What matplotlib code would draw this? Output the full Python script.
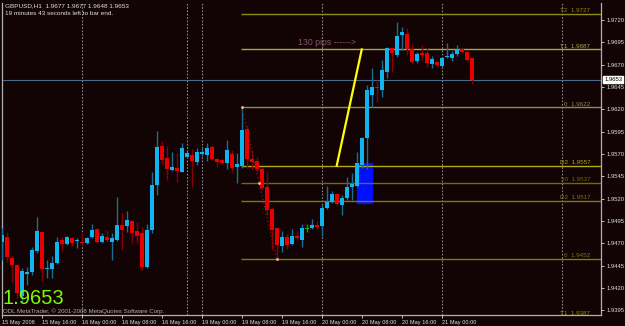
import matplotlib
matplotlib.use('agg')
import matplotlib.pyplot as plt
from matplotlib.patches import Rectangle

# GBPUSD H1 bars (15 May 08:00 .. 21 May 06:00)
opens = [1.9471, 1.9477, 1.9453, 1.9446, 1.9411, 1.9436, 1.9438, 1.9461, 1.9483, 1.9441,
         1.9441, 1.9448, 1.9474, 1.9469, 1.9476, 1.9472, 1.9471, 1.9470, 1.9477, 1.9486,
         1.9471, 1.9477, 1.9471, 1.9474, 1.9490, 1.9489, 1.9495, 1.9484, 1.9481, 1.9443,
         1.9485, 1.9535, 1.9579, 1.9565, 1.9552, 1.9554, 1.9550, 1.9567, 1.9569, 1.9561,
         1.9570, 1.9569, 1.9578, 1.9564, 1.9563, 1.9560, 1.9570, 1.9555, 1.9556, 1.9598,
         1.9564, 1.9562, 1.9553, 1.9533, 1.9508, 1.9487, 1.9467, 1.9477, 1.9469, 1.9478,
         1.9474, 1.9486, 1.9487, 1.9490, 1.9489, 1.9509, 1.9516, 1.9525, 1.9513, 1.9521,
         1.9533, 1.9534, 1.9558, 1.9588, 1.9636, 1.9645, 1.9642, 1.9662, 1.9689, 1.9681,
         1.9703, 1.9704, 1.9688, 1.9674, 1.9683, 1.9683, 1.9671, 1.9673, 1.9668, 1.9679,
         1.9677, 1.9682, 1.9688, 1.9684, 1.9677]
highs = [1.9487, 1.9483, 1.9457, 1.9447, 1.9442, 1.9443, 1.9466, 1.9499, 1.9484, 1.9451,
         1.9456, 1.9477, 1.9477, 1.9478, 1.9477, 1.9476, 1.9481, 1.9477, 1.9492, 1.9487,
         1.9481, 1.9485, 1.9481, 1.9522, 1.9504, 1.9506, 1.9496, 1.9494, 1.9488, 1.9492,
         1.9550, 1.9596, 1.9584, 1.9579, 1.9572, 1.9571, 1.9582, 1.9574, 1.9576, 1.9577,
         1.9577, 1.9582, 1.9580, 1.9565, 1.9564, 1.9586, 1.9574, 1.9571, 1.9622, 1.9601,
         1.9574, 1.9567, 1.9555, 1.9550, 1.9511, 1.9488, 1.9484, 1.9480, 1.9486, 1.9484,
         1.9492, 1.9492, 1.9497, 1.9495, 1.9514, 1.9534, 1.9528, 1.9526, 1.9524, 1.9544,
         1.9549, 1.9572, 1.9589, 1.9647, 1.9666, 1.9653, 1.9675, 1.9690, 1.9690, 1.9718,
         1.9712, 1.9711, 1.9693, 1.9684, 1.9692, 1.9689, 1.9680, 1.9675, 1.9679, 1.9694,
         1.9685, 1.9692, 1.9689, 1.9686, 1.9677]
lows = [1.9451, 1.9449, 1.9427, 1.9409, 1.9404, 1.9423, 1.9434, 1.9459, 1.9428, 1.9431,
        1.9431, 1.9447, 1.9461, 1.9468, 1.9467, 1.9465, 1.9468, 1.9469, 1.9476, 1.9470,
        1.9470, 1.9471, 1.9451, 1.9472, 1.9462, 1.9483, 1.9470, 1.9470, 1.9440, 1.9442,
        1.9481, 1.9524, 1.9559, 1.9541, 1.9551, 1.9539, 1.9550, 1.9565, 1.9533, 1.9558,
        1.9568, 1.9562, 1.9563, 1.9555, 1.9559, 1.9553, 1.9550, 1.9537, 1.9554, 1.9554,
        1.9552, 1.9550, 1.9530, 1.9502, 1.9462, 1.9452, 1.9460, 1.9464, 1.9468, 1.9474,
        1.9466, 1.9483, 1.9486, 1.9486, 1.9478, 1.9508, 1.9515, 1.9513, 1.9502, 1.9518,
        1.9518, 1.9533, 1.9554, 1.9553, 1.9623, 1.9628, 1.9634, 1.9655, 1.9662, 1.9679,
        1.9686, 1.9681, 1.9671, 1.9672, 1.9675, 1.9667, 1.9666, 1.9667, 1.9667, 1.9677,
        1.9674, 1.9680, 1.9683, 1.9673, 1.9648]
closes = [1.9479, 1.9455, 1.9446, 1.9414, 1.9439, 1.9438, 1.9462, 1.9484, 1.9441, 1.9442,
          1.9448, 1.9471, 1.9469, 1.9477, 1.9470, 1.9474, 1.9470, 1.9476, 1.9485, 1.9471,
          1.9478, 1.9474, 1.9476, 1.9490, 1.9485, 1.9496, 1.9481, 1.9478, 1.9443, 1.9485,
          1.9535, 1.9578, 1.9563, 1.9553, 1.9555, 1.9551, 1.9577, 1.9571, 1.9562, 1.9572,
          1.9572, 1.9577, 1.9564, 1.9561, 1.9560, 1.9574, 1.9554, 1.9559, 1.9597, 1.9564,
          1.9561, 1.9553, 1.9532, 1.9507, 1.9485, 1.9468, 1.9477, 1.9468, 1.9478, 1.9476,
          1.9487, 1.9486, 1.9490, 1.9488, 1.9509, 1.9516, 1.9525, 1.9514, 1.9521, 1.9533,
          1.9536, 1.9560, 1.9588, 1.9642, 1.9645, 1.9644, 1.9664, 1.9689, 1.9683, 1.9702,
          1.9707, 1.9688, 1.9673, 1.9682, 1.9681, 1.9672, 1.9676, 1.9670, 1.9677, 1.9680,
          1.9682, 1.9688, 1.9684, 1.9675, 1.9653]

# time axis labels (bar index, text)
xtick_idx = [0, 8, 16, 24, 32, 40, 48, 56, 64, 72, 80, 88]
xtick_labels = ['15 May 2008', '15 May 16:00', '16 May 00:00', '16 May 08:00',
                '16 May 16:00', '19 May 00:00', '19 May 08:00', '19 May 16:00',
                '20 May 00:00', '20 May 08:00', '20 May 16:00', '21 May 00:00']
separators = [16, 37, 40, 64, 88, 112]

# fibo / target levels
level_names = ['T2', 'T1', '0', 'D2', '50', 'D2', '0', 'T1']
level_prices = [1.9727, 1.9687, 1.9622, 1.9557, 1.9537, 1.9517, 1.9452, 1.9387]
level_colors = ['#8c8a10', '#aaa650', '#8c8a58', '#b4ac10', '#6e6a10', '#7c7818', '#7c7a14', '#8c8a10']
level_start = 47.8

# swing used for the retracement, and the projection line
swing_idx = [47.9, 54.9]
swing_price = [1.9622, 1.9452]
proj_idx = [66.9, 71.9]
proj_price = [1.9557, 1.9687]
box_idx = [70.9, 73.9]
box_price = [1.9515, 1.9560]

ytick_vals = [1.9395 + 0.0025 * k for k in range(14)]
last_price = 1.9653

BG = '#120404'
UP = '#10b4f0'
DOWN = '#e80000'
TXT = '#e0e0e0'
FONT = 'Liberation Sans'

fig = plt.figure(figsize=(6.25, 3.26), dpi=100, facecolor=BG)
ax = fig.add_axes([2 / 625, 1 - 315 / 326, 599 / 625, 312 / 326], facecolor=BG)
ax.set_xlim(-0.06, 119.76)
ax.set_ylim(1.93896, 1.97390)

# blue box behind the bars
ax.add_patch(Rectangle((box_idx[0], box_price[0]), box_idx[1] - box_idx[0],
                       box_price[1] - box_price[0], color='#0010ff', zorder=1))

# period separators
for s in separators:
    ax.axvline(s, color='#8a8a8a', lw=0.8, ls=(0, (1.5, 1.5)), zorder=0.5)

# current price line
ax.axhline(last_price, color='#4a6a88', lw=0.8, zorder=0.6)

# levels
for name, p, c in zip(level_names, level_prices, level_colors):
    ax.hlines(p, level_start, 119.76, color=c, lw=1.0, zorder=2)
    ax.text(117.6, p + 0.0001, name + '  ' + '%.4f' % p, color=c, fontsize=4.5,
            family=FONT, ha='right', va='bottom', zorder=3, clip_on=True)

# candles
for i in range(len(opens)):
    o, h, l, c = opens[i], highs[i], lows[i], closes[i]
    if c > o:
        body, wick = UP, '#1a6e92'
    elif c < o:
        body, wick = DOWN, '#8a0000'
    else:
        body, wick = '#00c000', '#00a000'
    ax.vlines(i, l, h, color=wick, lw=1.0, zorder=3)
    lo = min(o, c)
    hgt = max(abs(c - o), 0.00012)
    ax.bar(i, hgt, bottom=lo, width=0.78, color=body, linewidth=0, zorder=4)

# retracement diagonal and anchor points
ax.plot(swing_idx, swing_price, color='#a01010', lw=0.9, ls=(0, (1, 2)), zorder=5)
ax.scatter([swing_idx[0], swing_idx[1], 51.4], [swing_price[0], swing_price[1], 1.9537],
           s=4, color='#f0c090', zorder=6, linewidths=0)

# projection line
ax.plot(proj_idx, proj_price, color='#ffff00', lw=1.6, zorder=5)
ax.text(59.1, 1.9690, '130 pips ------>', color='#8a5070', fontsize=6.3,
        family=FONT, va='bottom', ha='left', zorder=6)

# axes look
ax.spines['top'].set_visible(False)
for side in ['left', 'right', 'bottom']:
    ax.spines[side].set_color('#b0b0b0')
    ax.spines[side].set_linewidth(0.9)

ax.yaxis.tick_right()
ax.set_yticks(ytick_vals)
ax.set_yticklabels(['%.4f' % v for v in ytick_vals])
ax.tick_params(axis='y', colors=TXT, labelsize=4.2, length=2, width=0.6, pad=2)
ax.set_xticks(xtick_idx)
ax.set_xticklabels(xtick_labels, ha='left')
ax.tick_params(axis='x', colors=TXT, labelsize=4.1, length=2, width=0.6, pad=1.5)
for lab in ax.get_xticklabels() + ax.get_yticklabels():
    lab.set_family(FONT)

# last price tag
ax.annotate('%.4f' % last_price, xy=(1.0, last_price), xycoords=('axes fraction', 'data'),
            xytext=(2.2, 0), textcoords='offset points', va='center', ha='left',
            fontsize=4.2, family=FONT, color='black',
            bbox=dict(boxstyle='square,pad=0.2', fc='white', ec='white'), zorder=10)

# header and overlays
fig.text(5 / 625, 1 - 6 / 326, 'GBPUSD,H1  1.9677 1.9677 1.9648 1.9653', color=TXT,
         fontsize=4.6, family=FONT, va='center')
fig.text(5 / 625, 1 - 13.5 / 326, '19 minutes 43 seconds left to bar end.', color=TXT,
         fontsize=4.6, family=FONT, va='center')
fig.text(3 / 625, 1 - 299 / 326, '%.4f' % last_price, color='#7cfc00', fontsize=14.5,
         family=FONT, va='center', ha='left')
fig.text(3 / 625, 1 - 311 / 326, 'ODL MetaTrader, \u00a9 2001-2008 MetaQuotes Software Corp.',
         color='#b0b0b0', fontsize=4.4, family=FONT, va='center')

fig.savefig('out.png', dpi=100, facecolor=BG)
